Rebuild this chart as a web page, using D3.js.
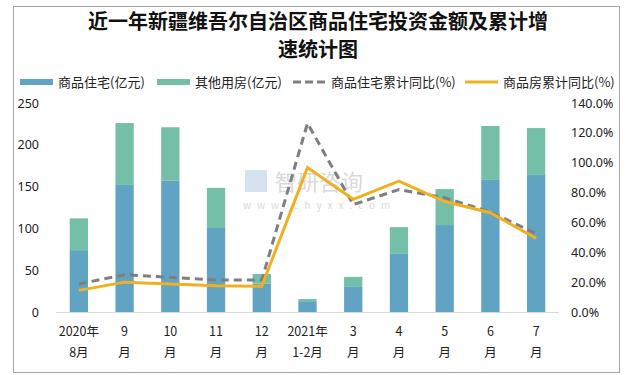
<!DOCTYPE html>
<html><head><meta charset="utf-8">
<script src="https://cdn.jsdelivr.net/npm/d3@7"></script>
<style>body{margin:0;background:#fff}svg{display:block}text{font-family:"Noto Sans CJK SC","Noto Sans",sans-serif}</style>
</head><body><div id="chart"></div>
<script>
const categories = ["2020年\n8月","9\n月","10\n月","11\n月","12\n月","2021年\n1-2月","3\n月","4\n月","5\n月","6\n月","7\n月"];
const residential = [74, 152, 157, 100.5, 34, 12, 30, 69.5, 104, 158, 164];
const otherUse = [38, 74, 64, 48, 11.5, 3.5, 12, 32, 43, 64.5, 56];
const residentialYoY = [18.8, 25, 23.2, 21.4, 21.4, 126.4, 72, 82, 76.5, 67, 52.5];
const commodityYoY = [14.5, 20, 18.7, 17.6, 17.2, 96.7, 75.5, 87.7, 74, 66.5, 49.3];
const leftTicks = [0, 50, 100, 150, 200, 250];
const rightTicks = [0, 20, 40, 60, 80, 100, 120, 140];
const seriesNames = ["商品住宅(亿元)","其他用房(亿元)","商品住宅累计同比(%)","商品房累计同比(%)"];
const titleLines = ["近一年新疆维吾尔自治区商品住宅投资金额及累计增","速统计图"];

const W = 626, H = 375;
const colors = {res:"#61a3c3", oth:"#75bea7", gray:"#7f7f7f", orange:"#f1b021"};
const svg = d3.select("#chart").append("svg").attr("width", W).attr("height", H);

svg.append("rect").attr("x",13.5).attr("y",6.5).attr("width",606).attr("height",366)
  .attr("fill","#fff").attr("stroke","#a6a6a6");

svg.selectAll("text.title").data(titleLines).enter().append("text")
  .attr("x", 318).attr("y",(d,i)=>29+i*28).attr("text-anchor","middle")
  .attr("font-size",20).attr("font-weight","bold").attr("fill","#111")
  .style("font-family",'"Noto Sans CJK SC",serif').text(d=>d);

const x = d3.scaleBand().domain(d3.range(categories.length)).range([56, 559]).paddingInner(0.6).paddingOuter(0.3);
const yL = d3.scaleLinear().domain([0,250]).range([312,103]);
const yR = d3.scaleLinear().domain([0,140]).range([312,103]);

// watermark
const wm = svg.append("g").attr("opacity",0.55);
wm.append("rect").attr("x",245).attr("y",170).attr("width",22).attr("height",22).attr("fill","#b7cce6");
wm.append("text").attr("x",275).attr("y",190).attr("font-size",22).attr("fill","#bbb").text("智研咨询");
wm.append("text").attr("x",243).attr("y",209).attr("font-size",10).attr("fill","#bbb").attr("letter-spacing","6px").text("www.chyxx.com");

// bars
const g = svg.append("g");
g.selectAll("rect.res").data(residential).enter().append("rect")
  .attr("x",(d,i)=>x(i)).attr("width",x.bandwidth())
  .attr("y",d=>yL(d)).attr("height",d=>yL(0)-yL(d)).attr("fill",colors.res);
g.selectAll("rect.oth").data(otherUse).enter().append("rect")
  .attr("x",(d,i)=>x(i)).attr("width",x.bandwidth())
  .attr("y",(d,i)=>yL(d+residential[i])).attr("height",d=>yL(0)-yL(d)).attr("fill",colors.oth);

// baseline
svg.append("line").attr("x1",56).attr("x2",559).attr("y1",312.5).attr("y2",312.5).attr("stroke","#d9d9d9");

const cx = i => x(i)+x.bandwidth()/2;
const line = d3.line().x((d,i)=>cx(i)).y(d=>yR(d));
svg.append("path").datum(residentialYoY).attr("d",line).attr("fill","none")
  .attr("stroke",colors.gray).attr("stroke-width",3).attr("stroke-dasharray","8,5");
svg.append("path").datum(commodityYoY).attr("d",line).attr("fill","none")
  .attr("stroke",colors.orange).attr("stroke-width",3);

// axes
const axL = d3.axisLeft(yL).tickValues(leftTicks).tickSize(0).tickPadding(0);
const gl = svg.append("g").attr("transform","translate(39,0)").call(axL);
const axR = d3.axisRight(yR).tickValues(rightTicks).tickSize(0).tickPadding(0).tickFormat(d=>d.toFixed(1)+"%");
const gr = svg.append("g").attr("transform","translate(571,0)").call(axR);
[gl,gr].forEach(a=>{a.select(".domain").remove();a.selectAll("text").attr("font-size",12.5).attr("fill","#222").style("font-family",'"Noto Sans","Noto Sans CJK SC",sans-serif');});

const axB = d3.axisBottom(x).tickSize(0).tickFormat("");
const gb = svg.append("g").attr("transform","translate(0,312)").call(axB);
gb.select(".domain").remove();
gb.selectAll(".tick").each(function(d){
  const t = d3.select(this).append("text").attr("text-anchor","middle").attr("font-size",12.5).attr("fill","#222");
  categories[d].split("\n").forEach((s,j)=>t.append("tspan").attr("x",0).attr("y",24+j*21).text(s));
});

// legend
const leg = [
  {x:20, type:"bar", c:colors.res, name:seriesNames[0]},
  {x:157, type:"bar", c:colors.oth, name:seriesNames[1]},
  {x:293, type:"dash", c:colors.gray, name:seriesNames[2]},
  {x:465, type:"line", c:colors.orange, name:seriesNames[3]}
];
const lg = svg.selectAll("g.leg").data(leg).enter().append("g").attr("transform",d=>`translate(${d.x},82)`);
lg.append("line").attr("x1",0).attr("x2",33).attr("y1",0).attr("y2",0)
  .attr("stroke",d=>d.c).attr("stroke-width",d=>d.type==="bar"?6:3)
  .attr("stroke-dasharray",d=>d.type==="dash"?"8,4":null);
lg.append("text").attr("x",38).attr("y",5).attr("font-size",13).attr("fill","#222").text(d=>d.name);
</script></body></html>
